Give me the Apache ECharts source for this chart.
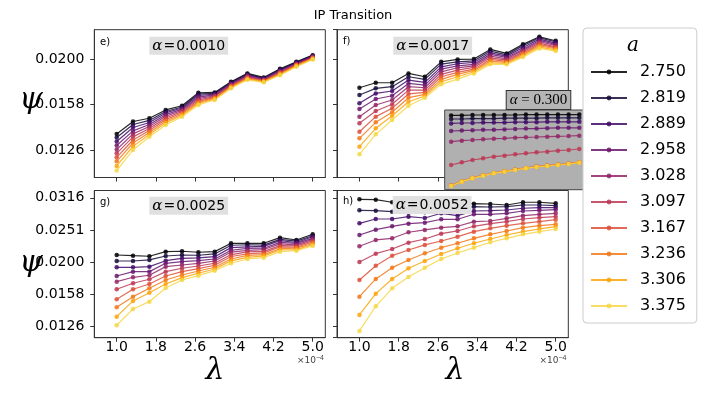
<!DOCTYPE html>
<html>
<head>
<meta charset="utf-8">
<script src="https://cdn.jsdelivr.net/npm/echarts@6/dist/echarts.min.js"></script>
<style>
  html, body { margin: 0; padding: 0; background: #fff; }
  #chart { width: 706px; height: 397px; }
</style>
</head>
<body>
<div id="chart"></div>
<script>
// lambda values (x 1e-4)
const lambdas = [1.0, 1.333, 1.667, 2.0, 2.333, 2.667, 3.0, 3.333, 3.667, 4.0, 4.333, 4.667, 5.0]
const xTicks = [1.0, 1.8, 2.6, 3.4, 4.2, 5.0]
const aValues = ['2.750', '2.819', '2.889', '2.958', '3.028', '3.097', '3.167', '3.236', '3.306', '3.375']
const colors = ['#000004', '#160b39', '#420a68', '#6a176e', '#932667', '#bc3754', '#dd513a', '#f37819', '#fca50a', '#f6d746']

// alpha = 0.0010
const psiE = [
  [0.01369, 0.01457, 0.01481, 0.01544, 0.01577, 0.01683, 0.01686, 0.01778, 0.01855, 0.01818, 0.01898, 0.01966, 0.02033],
  [0.01345, 0.01435, 0.01465, 0.01532, 0.01567, 0.01672, 0.01679, 0.01772, 0.01849, 0.01812, 0.01891, 0.01961, 0.02028],
  [0.01318, 0.01414, 0.01450, 0.01521, 0.01559, 0.01660, 0.01672, 0.01766, 0.01841, 0.01808, 0.01884, 0.01956, 0.02023],
  [0.01292, 0.01390, 0.01435, 0.01508, 0.01550, 0.01647, 0.01665, 0.01759, 0.01835, 0.01803, 0.01878, 0.01950, 0.02018],
  [0.01266, 0.01369, 0.01421, 0.01496, 0.01541, 0.01635, 0.01658, 0.01752, 0.01828, 0.01797, 0.01871, 0.01945, 0.02014],
  [0.01242, 0.01349, 0.01407, 0.01483, 0.01532, 0.01623, 0.01651, 0.01746, 0.01821, 0.01793, 0.01864, 0.01940, 0.02009],
  [0.01217, 0.01328, 0.01393, 0.01471, 0.01522, 0.01612, 0.01644, 0.01740, 0.01815, 0.01788, 0.01858, 0.01934, 0.02004],
  [0.01193, 0.01308, 0.01379, 0.01459, 0.01513, 0.01603, 0.01637, 0.01734, 0.01808, 0.01783, 0.01851, 0.01929, 0.02000],
  [0.01166, 0.01286, 0.01365, 0.01447, 0.01503, 0.01593, 0.01631, 0.01727, 0.01802, 0.01778, 0.01845, 0.01924, 0.01995],
  [0.01139, 0.01263, 0.01350, 0.01432, 0.01493, 0.01583, 0.01623, 0.01721, 0.01796, 0.01774, 0.01838, 0.01918, 0.01990]
]
// alpha = 0.0017
const psiF = [
  [0.01726, 0.01770, 0.01770, 0.01855, 0.01824, 0.01966, 0.01990, 0.01993, 0.02092, 0.02051, 0.02146, 0.02229, 0.02185],
  [0.01664, 0.01721, 0.01735, 0.01824, 0.01800, 0.01944, 0.01966, 0.01976, 0.02075, 0.02036, 0.02131, 0.02218, 0.02174],
  [0.01597, 0.01678, 0.01698, 0.01794, 0.01773, 0.01917, 0.01947, 0.01960, 0.02057, 0.02023, 0.02113, 0.02203, 0.02160],
  [0.01551, 0.01631, 0.01658, 0.01764, 0.01749, 0.01895, 0.01927, 0.01941, 0.02041, 0.02010, 0.02095, 0.02189, 0.02146],
  [0.01493, 0.01583, 0.01623, 0.01735, 0.01726, 0.01870, 0.01908, 0.01927, 0.02023, 0.01996, 0.02082, 0.02174, 0.02135],
  [0.01444, 0.01536, 0.01589, 0.01706, 0.01706, 0.01846, 0.01886, 0.01912, 0.02006, 0.01983, 0.02067, 0.02160, 0.02120],
  [0.01384, 0.01493, 0.01557, 0.01673, 0.01687, 0.01824, 0.01864, 0.01895, 0.01990, 0.01970, 0.02054, 0.02146, 0.02109],
  [0.01339, 0.01451, 0.01526, 0.01642, 0.01670, 0.01800, 0.01846, 0.01883, 0.01973, 0.01960, 0.02041, 0.02131, 0.02099],
  [0.01284, 0.01408, 0.01500, 0.01609, 0.01656, 0.01779, 0.01824, 0.01870, 0.01956, 0.01950, 0.02026, 0.02117, 0.02088],
  [0.01236, 0.01366, 0.01468, 0.01577, 0.01642, 0.01756, 0.01803, 0.01855, 0.01941, 0.01941, 0.02013, 0.02103, 0.02075]
]
// alpha = 0.0025
const psiG = [
  [0.02098, 0.02088, 0.02079, 0.02149, 0.02155, 0.02140, 0.02149, 0.02282, 0.02282, 0.02282, 0.02376, 0.02337, 0.02434],
  [0.02010, 0.02010, 0.02025, 0.02083, 0.02098, 0.02094, 0.02114, 0.02250, 0.02258, 0.02252, 0.02348, 0.02318, 0.02409],
  [0.01921, 0.01921, 0.01930, 0.02014, 0.02049, 0.02054, 0.02073, 0.02212, 0.02224, 0.02232, 0.02325, 0.02295, 0.02391],
  [0.01805, 0.01862, 0.01862, 0.01977, 0.02000, 0.02014, 0.02039, 0.02171, 0.02199, 0.02203, 0.02296, 0.02280, 0.02365],
  [0.01733, 0.01788, 0.01814, 0.01930, 0.01953, 0.01977, 0.02010, 0.02143, 0.02168, 0.02182, 0.02273, 0.02256, 0.02347],
  [0.01641, 0.01713, 0.01763, 0.01862, 0.01908, 0.01939, 0.01977, 0.02105, 0.02146, 0.02153, 0.02245, 0.02240, 0.02321],
  [0.01527, 0.01641, 0.01704, 0.01805, 0.01862, 0.01902, 0.01949, 0.02076, 0.02115, 0.02131, 0.02224, 0.02218, 0.02303],
  [0.01442, 0.01556, 0.01652, 0.01754, 0.01818, 0.01871, 0.01921, 0.02039, 0.02093, 0.02104, 0.02195, 0.02203, 0.02278],
  [0.01348, 0.01509, 0.01601, 0.01704, 0.01783, 0.01840, 0.01898, 0.02011, 0.02063, 0.02084, 0.02175, 0.02181, 0.02261],
  [0.01267, 0.01424, 0.01501, 0.01656, 0.01754, 0.01809, 0.01875, 0.01977, 0.02039, 0.02058, 0.02149, 0.02164, 0.02238]
]
// alpha = 0.0052
const psiH = [
  [0.03129, 0.03120, 0.03063, 0.03041, 0.03032, 0.03025, 0.03025, 0.03032, 0.03025, 0.03004, 0.03063, 0.03063, 0.03041],
  [0.02892, 0.02883, 0.02863, 0.02842, 0.02851, 0.02863, 0.02934, 0.02967, 0.02961, 0.02967, 0.03004, 0.03004, 0.02989],
  [0.02634, 0.02717, 0.02717, 0.02762, 0.02736, 0.02830, 0.02782, 0.02877, 0.02883, 0.02898, 0.02934, 0.02946, 0.02946],
  [0.02422, 0.02516, 0.02578, 0.02627, 0.02646, 0.02711, 0.02711, 0.02810, 0.02810, 0.02830, 0.02877, 0.02892, 0.02904],
  [0.02234, 0.02337, 0.02365, 0.02470, 0.02511, 0.02552, 0.02578, 0.02665, 0.02678, 0.02730, 0.02782, 0.02810, 0.02830],
  [0.01996, 0.02118, 0.02191, 0.02292, 0.02354, 0.02445, 0.02493, 0.02578, 0.02627, 0.02665, 0.02717, 0.02742, 0.02762],
  [0.01754, 0.01943, 0.02088, 0.02175, 0.02255, 0.02320, 0.02393, 0.02480, 0.02541, 0.02589, 0.02634, 0.02665, 0.02703],
  [0.01556, 0.01767, 0.01916, 0.02025, 0.02124, 0.02211, 0.02282, 0.02365, 0.02434, 0.02493, 0.02552, 0.02589, 0.02615],
  [0.01365, 0.01590, 0.01767, 0.01908, 0.02010, 0.02114, 0.02202, 0.02282, 0.02354, 0.02422, 0.02480, 0.02529, 0.02571],
  [0.01217, 0.01452, 0.01652, 0.01792, 0.01916, 0.02039, 0.02129, 0.02211, 0.02299, 0.02365, 0.02434, 0.02480, 0.02529]
]
// inset, alpha = 0.300
const psiInset = [
  [0.0399, 0.0399, 0.0400, 0.0400, 0.0400, 0.0400, 0.0400, 0.0401, 0.0401, 0.0401, 0.0401, 0.0401, 0.0401],
  [0.0390, 0.0390, 0.0391, 0.0391, 0.0391, 0.0392, 0.0392, 0.0392, 0.0392, 0.0393, 0.0393, 0.0393, 0.0393],
  [0.0379, 0.0380, 0.0380, 0.0381, 0.0381, 0.0381, 0.0382, 0.0382, 0.0382, 0.0383, 0.0383, 0.0383, 0.0383],
  [0.0360, 0.0361, 0.0362, 0.0363, 0.0363, 0.0364, 0.0365, 0.0366, 0.0366, 0.0367, 0.0368, 0.0368, 0.0368],
  [0.03334, 0.03359, 0.03375, 0.03392, 0.03409, 0.03417, 0.03434, 0.03442, 0.03450, 0.03459, 0.03467, 0.03475, 0.03484],
  [0.02750, 0.02817, 0.02875, 0.02917, 0.02959, 0.02984, 0.03017, 0.03042, 0.03067, 0.03084, 0.03109, 0.03125, 0.03150],
  [0.02236, 0.02344, 0.02427, 0.02494, 0.02552, 0.02594, 0.02636, 0.02677, 0.02710, 0.02735, 0.02760, 0.02785, 0.02819],
  [0.02232, 0.02340, 0.02423, 0.02490, 0.02548, 0.02590, 0.02632, 0.02673, 0.02706, 0.02731, 0.02756, 0.02781, 0.02815],
  [0.02229, 0.02337, 0.02420, 0.02487, 0.02545, 0.02587, 0.02629, 0.02670, 0.02703, 0.02728, 0.02753, 0.02778, 0.02812],
  [0.02226, 0.02334, 0.02417, 0.02484, 0.02542, 0.02584, 0.02626, 0.02667, 0.02700, 0.02725, 0.02750, 0.02775, 0.02809]
]

const LOG_BASE = Math.pow(10, 0.1)
const FONT = 'DejaVu Sans'

const panels = [
  { psi: psiE, left: 94.3, top: 29.7, width: 231, height: 147.8, yMin: 0.0110, yMax: 0.0231, xLabels: false, yLabels: true },
  { psi: psiF, left: 337, top: 29.7, width: 231.3, height: 147.8, yMin: 0.0110, yMax: 0.0231, xLabels: false, yLabels: false },
  { psi: psiG, left: 94.3, top: 190.5, width: 231, height: 147.2, yMin: 0.01159, yMax: 0.03333, xLabels: true, yLabels: true },
  { psi: psiH, left: 337, top: 190.5, width: 231.3, height: 147.2, yMin: 0.01159, yMax: 0.03333, xLabels: true, yLabels: false }
]

const grids = []
const xAxes = []
const yAxes = []
const series = []

panels.forEach((p, i) => {
  grids.push({
    left: p.left, top: p.top, width: p.width, height: p.height,
    show: true, borderColor: '#333', borderWidth: 1, backgroundColor: 'transparent'
  })
  xAxes.push({
    type: 'value', gridIndex: i, min: 0.543, max: 5.257,
    axisLine: { onZero: false, lineStyle: { color: '#333', width: 1 } },
    axisTick: { customValues: xTicks, length: 4, lineStyle: { color: '#333' } },
    axisLabel: {
      show: p.xLabels, customValues: xTicks, formatter: v => v.toFixed(1),
      fontSize: 14, color: '#000', fontFamily: FONT, margin: 3
    },
    splitLine: { show: false }
  })
  yAxes.push({
    type: 'log', logBase: LOG_BASE, gridIndex: i, min: p.yMin, max: p.yMax,
    axisLine: { show: true, lineStyle: { color: '#333', width: 1 } },
    axisTick: { show: true, length: 4, lineStyle: { color: '#333' } },
    axisLabel: {
      show: p.yLabels, showMinLabel: false, showMaxLabel: false,
      formatter: v => v.toFixed(4), fontSize: 14, color: '#000', fontFamily: FONT, margin: 10
    },
    splitLine: { show: false }
  })
  p.psi.forEach((row, j) => {
    series.push({
      type: 'line', name: aValues[j], xAxisIndex: i, yAxisIndex: i,
      data: lambdas.map((x, k) => [x, row[k]]),
      symbol: 'circle', symbolSize: 4.5, showSymbol: true,
      lineStyle: { color: colors[j], width: 1.2, opacity: 0.85 },
      itemStyle: { color: colors[j], opacity: 0.85 },
      emphasis: { disabled: true },
      z: 2
    })
  })
})

// inset panel
grids.push({
  left: 444.7, top: 110, width: 141, height: 79.7,
  show: true, backgroundColor: '#b0b0b0', borderColor: '#444', borderWidth: 1, z: 10
})
xAxes.push({ type: 'value', gridIndex: 4, min: 0.8, max: 5.2, show: false })
yAxes.push({ type: 'value', gridIndex: 4, min: 0.02133, max: 0.04125, show: false })
psiInset.forEach((row, j) => {
  series.push({
    type: 'line', name: aValues[j], xAxisIndex: 4, yAxisIndex: 4,
    data: lambdas.map((x, k) => [x, row[k]]),
    symbol: 'circle', symbolSize: 4.5, showSymbol: true,
    lineStyle: { color: colors[j], width: 1.2, opacity: 0.85 },
    itemStyle: { color: colors[j], opacity: 0.85 },
    emphasis: { disabled: true },
    z: 12
  })
})

function alphaLabel (x, y, val) {
  return {
    type: 'text', left: x, top: y, z: 30,
    style: {
      text: '{m|α}{e|=}' + val,
      rich: {
        m: { fontFamily: 'DejaVu Serif', fontStyle: 'italic', fontSize: 15, padding: [0, 1, 0, 0] },
        e: { fontFamily: 'DejaVu Serif', fontSize: 14, padding: [0, 1, 0, 0] }
      },
      fontFamily: FONT, fontSize: 14, fill: '#000',
      backgroundColor: '#e0e0e0', padding: [2, 3, 1, 3]
    }
  }
}

function smallText (x, y, text) {
  return { type: 'text', x: x, y: y, z: 30, style: { text: text, fontFamily: FONT, fontSize: 10, fill: '#000', textVerticalAlign: 'middle' } }
}

function bigText (x, y, text) {
  return {
    type: 'text', x: x, y: y, z: 30,
    style: { text: text, fontFamily: 'DejaVu Serif', fontStyle: 'italic', fontSize: 30, fill: '#000', textAlign: 'center', textVerticalAlign: 'middle' }
  }
}

function scaleText (x, y) {
  return {
    type: 'text', x: x, y: y, z: 30,
    style: {
      text: '×10{s|−4}',
      rich: { s: { fontSize: 7, verticalAlign: 'top', padding: [0, 0, 6, 0] } },
      fontFamily: FONT, fontSize: 9, fill: '#444', textVerticalAlign: 'middle'
    }
  }
}

const graphics = [
  alphaLabel(149.3, 36.7, '0.0010'),
  alphaLabel(393.3, 36.7, '0.0017'),
  alphaLabel(149.3, 196.7, '0.0025'),
  alphaLabel(392.7, 196, '0.0052'),
  smallText(100, 42, 'e)'),
  smallText(343, 41.5, 'f)'),
  smallText(100, 202.5, 'g)'),
  smallText(343, 201.5, 'h)'),
  bigText(31, 100, 'ψ'),
  bigText(31, 263, 'ψ'),
  bigText(215, 371, 'λ'),
  bigText(455, 371, 'λ'),
  scaleText(297, 361),
  scaleText(539.5, 361),
  {
    type: 'text', left: 505.7, top: 90, z: 30,
    style: {
      text: '{m|α} = 0.300',
      rich: { m: { fontFamily: 'Liberation Serif', fontStyle: 'italic', fontSize: 15 } },
      fontFamily: 'Liberation Serif', fontSize: 15, fill: '#000',
      backgroundColor: '#b5b5b5', borderColor: '#333', borderWidth: 1, padding: [2, 3, 1, 3]
    }
  },
  {
    type: 'text', x: 633, y: 46, z: 40,
    style: { text: 'a', fontFamily: 'DejaVu Serif', fontStyle: 'italic', fontSize: 20, fill: '#000', textAlign: 'center', textVerticalAlign: 'middle' }
  }
]

const chart = echarts.init(document.getElementById('chart'))
chart.setOption({
  animation: false,
  backgroundColor: '#fff',
  title: {
    text: 'IP Transition', left: 'center', top: 4,
    textStyle: { fontFamily: FONT, fontSize: 13, fontWeight: 'normal', color: '#000' }
  },
  legend: {
    data: aValues, orient: 'vertical', left: 583, top: 28,
    padding: [36, 11, 9, 7], itemWidth: 36, itemHeight: 6, itemGap: 10,
    backgroundColor: '#fff', borderColor: '#ccc', borderWidth: 1, borderRadius: 4,
    textStyle: { fontSize: 16, color: '#000', fontFamily: FONT, padding: [0, 0, 0, 8] },
    z: 20
  },
  grid: grids,
  xAxis: xAxes,
  yAxis: yAxes,
  series: series,
  graphic: graphics
})
</script>
</body>
</html>
